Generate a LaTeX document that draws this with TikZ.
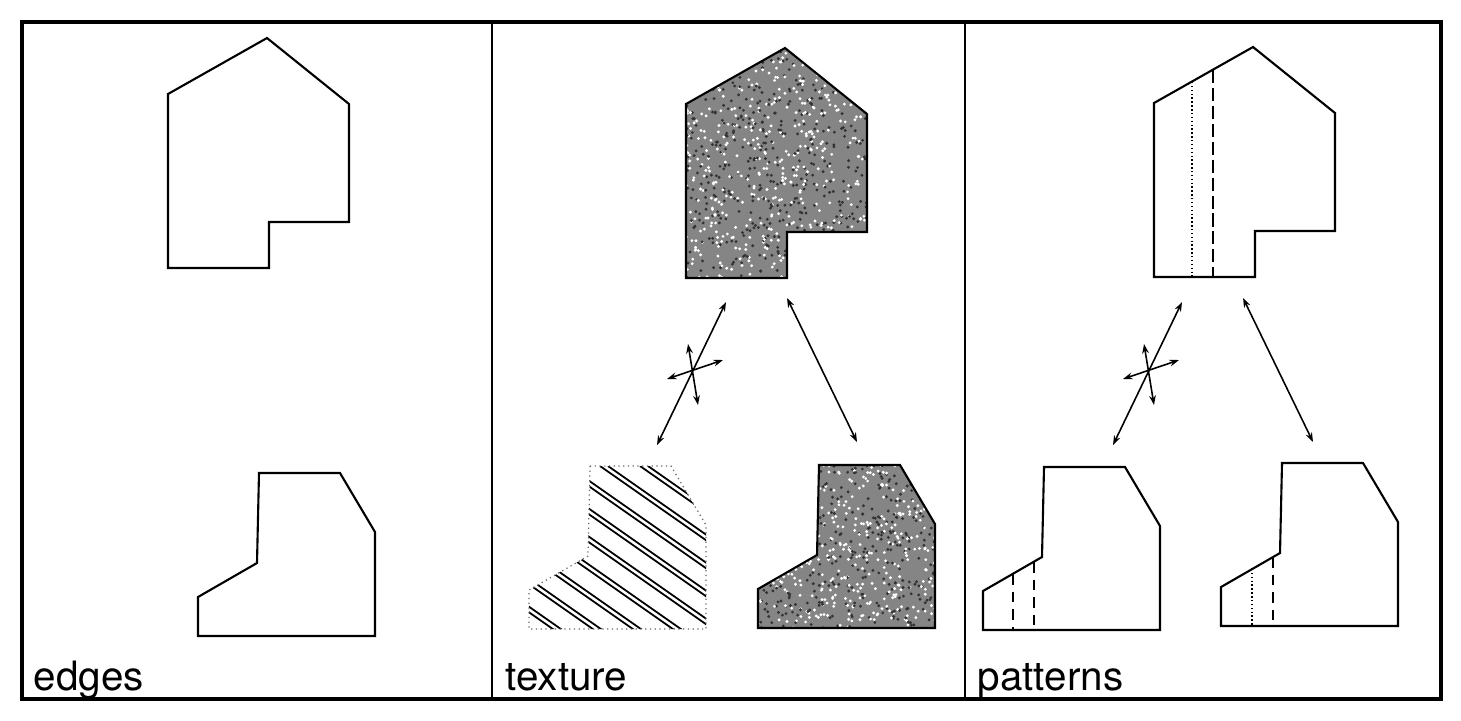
\documentclass[tikz,border=0pt]{standalone}
\usepackage{fontspec}
\setmainfont{TeX Gyre Heros}
\usetikzlibrary{arrows.meta}

% the two outlines, in pixel units of the edges panel
\newcommand{\upperpart}{(168,94) -- (267,38) -- (349,104) -- (349,222) -- (269,222) -- (269,268) -- (168,268) -- cycle}
\newcommand{\lowerpart}{(259,473) -- (340,473) -- (375,532) -- (375,636) -- (198,636) -- (198,597) -- (257,563) -- cycle}

\begin{document}
\begin{tikzpicture}[
				        x=0.01cm, y=-0.01cm,
				        >={Stealth[length=2.7pt,width=1.9pt]},
				        frame/.style={line width=0.9pt},
				        divider/.style={line width=0.6pt},
				        outline/.style={line width=0.6pt, line join=miter},
				        grain/.style={fill=black!48},
				        speck/.style={radius=0.45pt},
				        hatch/.style={line width=0.5pt},
				        hatchedge/.style={line width=0.35pt, black!60, densely dotted},
				        longdash/.style={line width=0.7pt, dash pattern=on 3.7pt off 1.4pt},
				        middash/.style={line width=0.6pt, dash pattern=on 3pt off 2pt},
				        finedot/.style={line width=0.4pt, dash pattern=on 0.4pt off 0.7pt},
				        twoway/.style={<->, line width=0.45pt},
				        paneltext/.style={anchor=base west, inner sep=0pt, font=\fontsize{11.5}{14}\selectfont}
				        ]
				        \useasboundingbox (0,0) rectangle (1461,720);
				        \draw[frame] (22,22) rectangle (1441,699);
				        \draw[divider] (492,22) -- (492,699);
				        \draw[divider] (965,22) -- (965,699);

				        % edges
				        \draw[outline] \upperpart;
				        \draw[outline] \lowerpart;
				        \node[paneltext] (edges) at (33,690) {edges};

				        % texture
				        \pgfmathsetseed{4}
				        \begin{scope}
				              \clip[shift={(518,10)}] \upperpart;
				              \fill[grain] (680,40) rectangle (870,280);
				              \foreach \i in {1,...,500}
				                    {\fill[white, speck] ({686+181*rnd},{48+230*rnd}) circle;
				                     \fill[black!80, speck] ({686+181*rnd},{48+230*rnd}) circle;}
				        \end{scope}
				        \begin{scope}
				              \clip[shift={(560,-8)}] \lowerpart;
				              \fill[grain] (750,460) rectangle (940,632);
				              \foreach \i in {1,...,380}
				                    {\fill[white, speck] ({758+177*rnd},{465+163*rnd}) circle;
				                     \fill[black!80, speck] ({758+177*rnd},{465+163*rnd}) circle;}
				        \end{scope}
				        \draw[outline, shift={(518,10)}] \upperpart;
				        \draw[outline, shift={(560,-8)}] \lowerpart;
				        \begin{scope}
				              \clip[shift={(331,-7)}] \lowerpart;
				              \foreach \c in {240,280,...,720}
				                    {\draw[hatch] (\c,466) -- ++(300,210);
				                     \draw[hatch] (\c+8,466) -- ++(300,210);}
				        \end{scope}
				        \draw[hatchedge, shift={(331,-7)}] \lowerpart;
				        \node[paneltext] (texture) at (505,690) {texture};

				        % patterns
				        \draw[outline, shift={(986,9)}] \upperpart;
				        \draw[outline, shift={(785,-6)}] \lowerpart;
				        \draw[outline, shift={(1023,-10)}] \lowerpart;
				        \draw[finedot] (1192,82) -- (1192,277);
				        \draw[longdash] (1213,70) -- (1213,277);
				        \draw[middash] (1013,574) -- (1013,630);
				        \draw[middash] (1034,562) -- (1034,630);
				        \draw[finedot] (1252,569) -- (1252,626);
				        \draw[middash] (1273,557) -- (1273,626);
				        \node[paneltext] (patterns) at (977,690) {patterns};

				        % matches between the shapes
				        \foreach \dx/\p in {0/t, 456/p}
				        {
				              \begin{scope}[shift={(\dx,0)}]
				                    \coordinate (\p lo) at (657,445);
				                    \coordinate (\p lu) at (726,302);
				                    \coordinate (\p ru) at (787,298);
				                    \coordinate (\p ro) at (857,442);
				                    \coordinate (\p vu) at (688,344);
				                    \coordinate (\p vo) at (698,405);
				                    \coordinate (\p hl) at (667,379);
				                    \coordinate (\p hr) at (723,360);
				              \end{scope}
				              \draw[twoway] (\p lo) -- (\p lu);
				              \draw[twoway] (\p ru) -- (\p ro);
				              \draw[twoway] (\p vu) -- (\p vo);
				              \draw[twoway] (\p hl) -- (\p hr);
				        }
				    \end{tikzpicture}
\end{document}
